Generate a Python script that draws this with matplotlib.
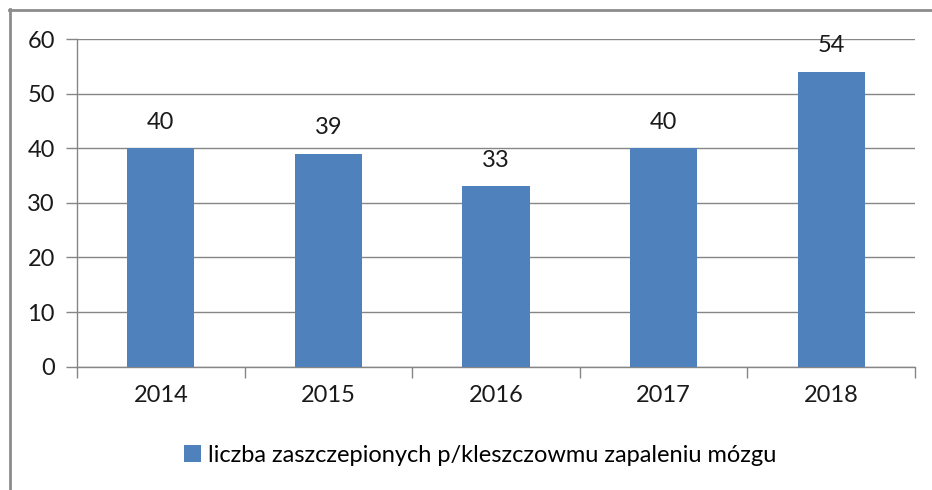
import matplotlib.pyplot as plt
from matplotlib.lines import Line2D

plt.rcParams['font.family'] = ['Lato', 'DejaVu Sans']

lata = ['2014', '2015', '2016', '2017', '2018']
zaszczepieni = [40, 39, 33, 40, 54]
etykieta = 'liczba zaszczepionych p/kleszczowmu zapaleniu mózgu'

W, H = 932, 490
fig = plt.figure(figsize=(W / 100, H / 100), dpi=100)
ax = fig.add_axes([77 / W, 1 - 366.7 / H, (915 - 77) / W, (366.7 - 39) / H])

kolor = '#4f81bd'
szary = '#868686'
fs = 17
x = range(len(lata))
bars = ax.bar(x, zaszczepieni, width=0.4, color=kolor, zorder=3, label=etykieta)

for b, v in zip(bars, zaszczepieni):
    ax.annotate(str(v), (b.get_x() + b.get_width() / 2, v), xytext=(0, 11),
                textcoords='offset points', ha='center', va='bottom',
                fontsize=fs, color='#1a1a1a')

ax.set_xlim(-0.5, len(lata) - 0.5)
ax.set_ylim(0, 60)
ax.set_yticks(range(0, 61, 10))
ax.yaxis.grid(True, color=szary, linewidth=1.0, zorder=0)
ax.set_axisbelow(True)

ax.set_xticks(x)
ax.set_xticklabels(lata)
ax.set_xticks([i - 0.5 for i in range(len(lata) + 1)], minor=True)
ax.tick_params(axis='x', which='major', length=0, pad=13, labelsize=fs, labelcolor='#1a1a1a')
ax.tick_params(axis='x', which='minor', length=8, color=szary, width=1, direction='out')
ax.tick_params(axis='y', length=8, color=szary, width=1, pad=8, labelsize=fs, labelcolor='#1a1a1a')

for s in ['top', 'right']:
    ax.spines[s].set_visible(False)
for s in ['left', 'bottom']:
    ax.spines[s].set_color(szary)
    ax.spines[s].set_linewidth(1.0)

fig.legend(handles=[bars], labels=[etykieta], loc='center', bbox_to_anchor=(480 / W, 1 - 455 / H),
           frameon=False, fontsize=fs, handlelength=0.7, handleheight=0.7,
           handletextpad=0.3, borderaxespad=0)

# ramka wykresu
fig.add_artist(Line2D([9 / W, 1], [1 - 10 / H, 1 - 10 / H], color='#8c8c8c', linewidth=2.0,
                      transform=fig.transFigure))
fig.add_artist(Line2D([10 / W, 10 / W], [0, 1 - 9 / H], color='#8c8c8c', linewidth=2.0,
                      transform=fig.transFigure))

fig.savefig('out.png', dpi=100)
